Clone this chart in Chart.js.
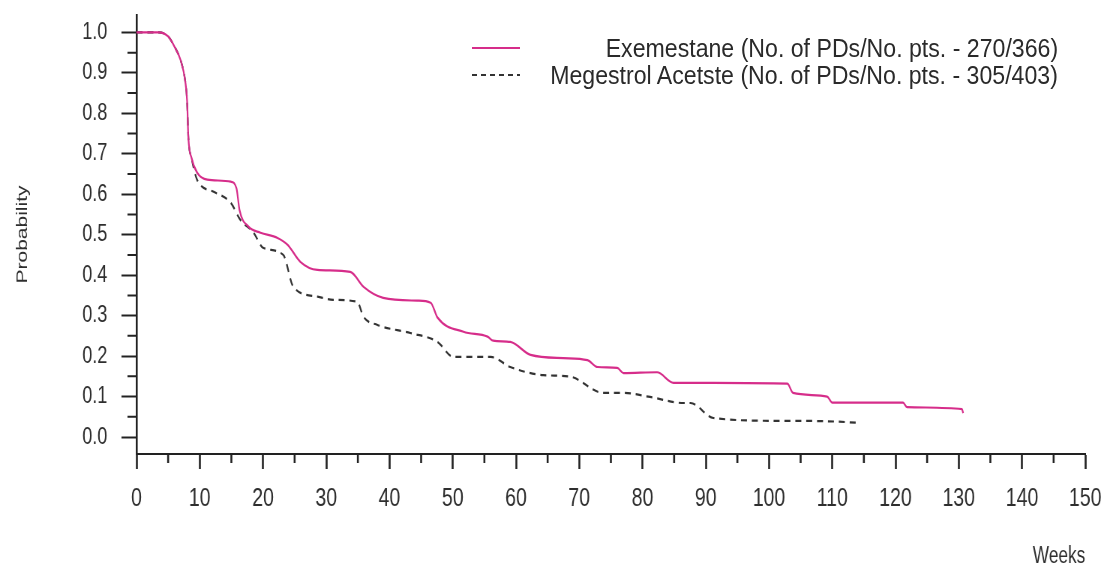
<!DOCTYPE html>
<html>
<head>
<meta charset="utf-8">
<script src="https://cdn.jsdelivr.net/npm/chart.js@4.4.1/dist/chart.umd.min.js"></script>
<style>
  html, body { margin: 0; padding: 0; background: #ffffff; overflow: hidden; width: 1107px; height: 568px; }
  #wrap { position: absolute; left: 0; top: 0; width: 1476px; height: 568px;
          transform: scaleX(0.75); transform-origin: 0 0; }
  #legend { position: absolute; left: 470px; top: 35px; width: 588px;
            font-family: "Liberation Sans", Arial, sans-serif; font-size: 25px; color: #2a2a2a; }
  .row { position: relative; height: 27px; }
  .sample { position: absolute; left: 2px; top: 12px; width: 48px; height: 2px; }
  .s1 { background: #d62d8a; }
  .s2 { background: repeating-linear-gradient(to right, #333 0 5px, transparent 5px 9px); }
  .lbl { position: absolute; right: 0; top: 0; white-space: nowrap; line-height: 27px;
         transform: scaleX(0.925); transform-origin: 100% 50%; }
</style>
</head>
<body>
<div id="wrap">
  <canvas id="c"></canvas>
</div>
<div id="legend">
  <div class="row"><div class="sample s1"></div><div class="lbl" id="l1"></div></div>
  <div class="row"><div class="sample s2"></div><div class="lbl" id="l2"></div></div>
</div>
<script>
// ---- data ----
const seriesNames = [
  "Exemestane (No. of PDs/No. pts. - 270/366)",
  "Megestrol Acetste (No. of PDs/No. pts. - 305/403)"
];
const exeWeeks = [0, 3.5, 5, 6, 7, 7.7, 8.0, 8.2, 8.7, 9.6, 11.2, 14.9, 15.8, 16.3, 17.7, 19.6, 22.3, 23.9, 25.9, 28.6, 33.8, 35.9, 39.0, 44.4, 46.5, 47.6, 51.7, 55.5, 56.4, 59.1, 62.3, 67.5, 71.3, 72.9, 76.0, 77.0, 82.3, 84.9, 102.9, 103.8, 109.2, 110.0, 121.2, 121.8, 130.5, 130.7];
const exeProb  = [1.0, 1.0, 0.99, 0.965, 0.93, 0.88, 0.83, 0.74, 0.69, 0.653, 0.636, 0.631, 0.615, 0.56, 0.52, 0.505, 0.492, 0.475, 0.433, 0.413, 0.408, 0.371, 0.344, 0.337, 0.332, 0.295, 0.26, 0.248, 0.238, 0.235, 0.203, 0.195, 0.19, 0.173, 0.171, 0.158, 0.16, 0.134, 0.132, 0.109, 0.1, 0.085, 0.085, 0.074, 0.069, 0.059];
const megWeeks = [0, 3.5, 5, 6, 7, 7.7, 8.0, 8.2, 8.7, 9.6, 12.2, 14.9, 16.4, 18.5, 20.0, 23.2, 24.8, 28.6, 31.1, 34.9, 35.9, 38.1, 43.3, 47.6, 50.1, 56.0, 59.1, 64.3, 68.6, 73.8, 77.0, 81.2, 86.5, 87.6, 91.2, 101.8, 114.0, 114.1];
const megProb  = [1.0, 1.0, 0.99, 0.965, 0.93, 0.88, 0.83, 0.74, 0.69, 0.635, 0.606, 0.579, 0.537, 0.505, 0.468, 0.45, 0.371, 0.347, 0.339, 0.334, 0.297, 0.277, 0.257, 0.235, 0.198, 0.198, 0.173, 0.153, 0.149, 0.109, 0.109, 0.099, 0.084, 0.084, 0.047, 0.04, 0.035, 0.03];
const xTickValues = [0, 5, 10, 15, 20, 25, 30, 35, 40, 45, 50, 55, 60, 65, 70, 75, 80, 85, 90, 95, 100, 105, 110, 115, 120, 125, 130, 135, 140, 145, 150];
const yTickValues = [0, 0.05, 0.1, 0.15, 0.2, 0.25, 0.3, 0.35, 0.4, 0.45, 0.5, 0.55, 0.6, 0.65, 0.7, 0.75, 0.8, 0.85, 0.9, 0.95, 1.0];
const xTitle = "Weeks";
const yTitle = "Probability";

document.getElementById('l1').textContent = seriesNames[0];
document.getElementById('l2').textContent = seriesNames[1];

const FONT = "'Liberation Sans', Arial, sans-serif";
const INK = '#222222';
const TEXT = '#2e2e2e';
const isMajorX = v => Math.round(v) % 10 === 0;
const isMajorY = v => Math.round(v * 100) % 10 === 0;

const minorTicks = {
  id: 'minorTicks',
  afterDraw(chart) {
    const ctx = chart.ctx;
    const xs = chart.scales.x, ys = chart.scales.y;
    ctx.save();
    ctx.strokeStyle = INK;
    ctx.lineWidth = 2.6;
    ctx.beginPath();
    xTickValues.filter(v => !isMajorX(v)).forEach(v => {
      const px = xs.getPixelForValue(v);
      ctx.moveTo(px, xs.top); ctx.lineTo(px, xs.top + 9);
    });
    ctx.stroke();
    ctx.lineWidth = 2;
    ctx.beginPath();
    yTickValues.filter(v => !isMajorY(v)).forEach(v => {
      const py = ys.getPixelForValue(v);
      ctx.moveTo(ys.right - 12, py); ctx.lineTo(ys.right, py);
    });
    ctx.stroke();
    ctx.restore();
  }
};

const noPad = s => { s.paddingTop = 0; s.paddingBottom = 0; s.paddingLeft = 0; s.paddingRight = 0; };

new Chart(document.getElementById('c'), {
  type: 'line',
  data: {
    datasets: [
      {
        label: seriesNames[0],
        data: exeWeeks.map((w, i) => ({ x: w, y: exeProb[i] })),
        borderColor: '#d62d8a',
        borderWidth: 2.2,
        pointRadius: 0,
        cubicInterpolationMode: 'monotone',
        fill: false
      },
      {
        label: seriesNames[1],
        data: megWeeks.map((w, i) => ({ x: w, y: megProb[i] })),
        borderColor: '#333333',
        borderWidth: 2.2,
        borderDash: [8, 6.5],
        pointRadius: 0,
        cubicInterpolationMode: 'monotone',
        fill: false
      }
    ]
  },
  options: {
    responsive: true,
    maintainAspectRatio: false,
    animation: false,
    layout: { padding: { top: 15, right: 29, left: 0, bottom: 0 } },
    plugins: { legend: { display: false }, tooltip: { enabled: false } },
    scales: {
      x: {
        type: 'linear', min: 0, max: 150,
        afterBuildTicks: s => { s.ticks = xTickValues.map(v => ({ value: v })); },
        afterFit: s => { s.height = 114; noPad(s); },
        ticks: {
          autoSkip: false, maxRotation: 0, padding: 14, color: TEXT,
          font: { family: FONT, size: 26 },
          callback: v => isMajorX(v) ? String(v) : ''
        },
        grid: {
          drawOnChartArea: false, drawTicks: true, tickLength: 15, tickWidth: 2.6,
          tickColor: c => (c.tick && isMajorX(c.tick.value)) ? INK : 'rgba(0,0,0,0)'
        },
        border: { display: true, color: INK, width: 2 },
        title: { display: true, text: xTitle, align: 'end', color: TEXT,
                 font: { family: FONT, size: 23, lineHeight: 1 }, padding: { top: 0, bottom: 0 } }
      },
      y: {
        type: 'linear', min: -0.042, max: 1.043,
        afterBuildTicks: s => { s.ticks = yTickValues.map(v => ({ value: v })); },
        afterFit: s => { s.width = 182; noPad(s); },
        ticks: {
          autoSkip: false, padding: 19, color: TEXT,
          font: { family: FONT, size: 24 },
          callback: v => isMajorY(v) ? v.toFixed(1) : ''
        },
        grid: {
          drawOnChartArea: false, drawTicks: true, tickLength: 20, tickWidth: 2,
          tickColor: c => (c.tick && isMajorY(c.tick.value)) ? INK : 'rgba(0,0,0,0)'
        },
        border: { display: true, color: INK, width: 2.6 },
        title: { display: true, text: yTitle, color: TEXT,
                 font: { family: FONT, size: 21, lineHeight: 1 }, padding: { top: 20, bottom: 0 } }
      }
    }
  },
  plugins: [minorTicks]
});
</script>
</body>
</html>
